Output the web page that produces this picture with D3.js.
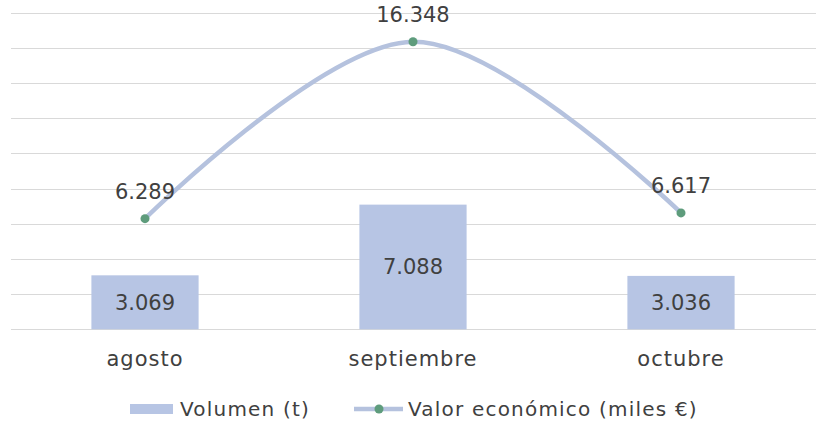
<!DOCTYPE html>
<meta charset="utf-8">
<style>
    body {
        margin: 0;
        background: #fff;
    }

    svg text {
        font-family: "DejaVu Sans", sans-serif;
        fill: #404040;
    }

    .grid line {
        stroke: #d9d9d9;
        stroke-width: 1;
    }
</style>

<body>
    <script src="https://cdn.jsdelivr.net/npm/d3@7"></script>
    <script>

    // chart data
    var months = ["agosto", "septiembre", "octubre"];
    var volumen = [3.069, 7.088, 3.036];           // Volumen (t), thousands
    var valor = [6.289, 16.348, 6.617];            // Valor económico (miles €), thousands
    var gridTicks = [0, 2, 4, 6, 8, 10, 12, 14, 16, 18];
    var seriesNames = ["Volumen (t)", "Valor económico (miles €)"];

    var barColor = "#b7c5e4",
        lineColor = "#b5c2de",
        dotColor = "#5e9c7c";

    var width = 827, height = 426;

    var svg = d3.select("body").append("svg")
        .attr("width", width).attr("height", height);

    var fmt = function(v) { return v.toFixed(3); };

    // scales
    var x = d3.scaleBand()
        .domain(months)
        .range([11, 815])
        .paddingInner(0.6)
        .paddingOuter(0.3);

    var y = d3.scaleLinear()
        .domain([0, 18])
        .range([329.3, 12.7]);

    // horizontal gridlines
    svg.append("g")
        .attr("class", "grid")
        .selectAll("line")
        .data(gridTicks)
        .enter().append("line")
        .attr("x1", 11).attr("x2", 816)
        .attr("y1", function(d) { return Math.round(y(d)) + 0.5; })
        .attr("y2", function(d) { return Math.round(y(d)) + 0.5; });

    // bars
    var bars = svg.append("g").selectAll("g")
        .data(months)
        .enter().append("g");

    bars.append("rect")
        .attr("x", function(d) { return x(d); })
        .attr("width", x.bandwidth())
        .attr("y", function(d, i) { return y(volumen[i]); })
        .attr("height", function(d, i) { return y(0) - y(volumen[i]); })
        .attr("fill", barColor);

    bars.append("text")
        .attr("x", function(d) { return x(d) + x.bandwidth() / 2; })
        .attr("y", function(d, i) { return (y(volumen[i]) + y(0)) / 2 + 7.5; })
        .attr("text-anchor", "middle")
        .style("font-size", "21px")
        .text(function(d, i) { return fmt(volumen[i]); });

    // smoothed line for valor
    var pts = months.map(function(m, i) { return [x(m) + x.bandwidth() / 2, y(valor[i])]; });

    var line = d3.line().curve(d3.curveCatmullRom.alpha(0));

    svg.append("path")
        .attr("d", line(pts))
        .attr("fill", "none")
        .attr("stroke", lineColor)
        .attr("stroke-width", 4.5)
        .attr("stroke-linecap", "round");

    svg.append("g").selectAll("circle")
        .data(pts)
        .enter().append("circle")
        .attr("cx", function(d) { return d[0]; })
        .attr("cy", function(d) { return d[1]; })
        .attr("r", 4.5)
        .attr("fill", dotColor);

    svg.append("g").selectAll("text")
        .data(pts)
        .enter().append("text")
        .attr("x", function(d) { return d[0]; })
        .attr("y", function(d) { return d[1] - 20; })
        .attr("text-anchor", "middle")
        .style("font-size", "21px")
        .text(function(d, i) { return fmt(valor[i]); });

    // category labels
    svg.append("g").selectAll("text")
        .data(months)
        .enter().append("text")
        .attr("x", function(d) { return x(d) + x.bandwidth() / 2; })
        .attr("y", 366)
        .attr("text-anchor", "middle")
        .style("font-size", "21px")
        .style("letter-spacing", "1px")
        .text(function(d) { return d; });

    // legend
    var legend = svg.append("g");

    legend.append("rect")
        .attr("x", 130).attr("y", 404)
        .attr("width", 43).attr("height", 10)
        .attr("fill", barColor);

    legend.append("text")
        .attr("x", 180).attr("y", 416)
        .style("font-size", "20px")
        .style("letter-spacing", "1.2px")
        .text(seriesNames[0]);

    legend.append("line")
        .attr("x1", 354).attr("x2", 403)
        .attr("y1", 409).attr("y2", 409)
        .attr("stroke", lineColor)
        .attr("stroke-width", 4.5);

    legend.append("circle")
        .attr("cx", 379).attr("cy", 409)
        .attr("r", 4.5)
        .attr("fill", dotColor);

    legend.append("text")
        .attr("x", 408).attr("y", 416)
        .style("font-size", "20px")
        .style("letter-spacing", "1.2px")
        .text(seriesNames[1]);

    </script>
</body>
